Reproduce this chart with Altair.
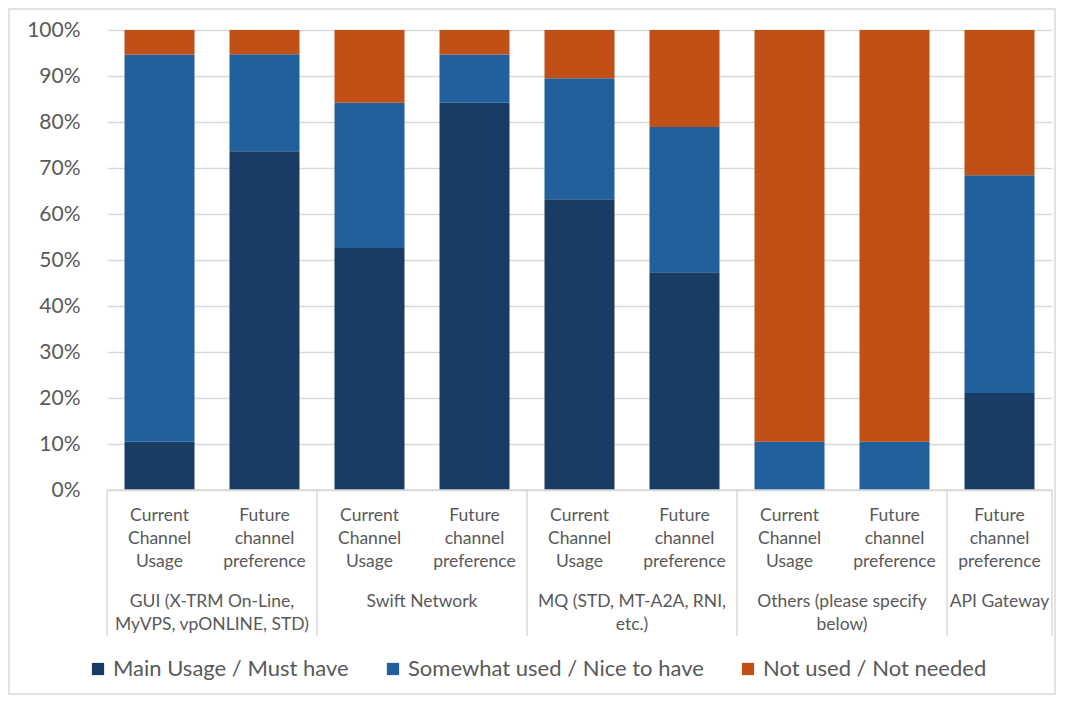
import altair as alt
import pandas as pd

# ---- data ----
groups = ["GUI (X-TRM On-Line,\nMyVPS, vpONLINE, STD)", "Swift Network",
          "MQ (STD, MT-A2A, RNI,\netc.)", "Others (please specify\nbelow)", "API Gateway"]
group_sizes = [2, 2, 2, 2, 1]
bar_labels = ["Current\nChannel\nUsage", "Future\nchannel\npreference",
              "Current\nChannel\nUsage", "Future\nchannel\npreference",
              "Current\nChannel\nUsage", "Future\nchannel\npreference",
              "Current\nChannel\nUsage", "Future\nchannel\npreference",
              "Future\nchannel\npreference"]
series = ["Main Usage / Must have", "Somewhat used / Nice to have", "Not used / Not needed"]
main = [10.5, 73.7, 52.6, 84.2, 63.2, 47.4, 0.0, 0.0, 21.1]
somewhat = [84.2, 21.1, 31.6, 10.5, 26.3, 31.6, 10.5, 10.5, 47.4]
notused = [5.3, 5.3, 15.8, 5.3, 10.5, 21.1, 89.5, 89.5, 31.6]
colors = ["#183c64", "#21609c", "#c05016"]

# ---- tables ----
rows = []
for i, lab in enumerate(bar_labels):
    for s_i, (s, vals) in enumerate(zip(series, [main, somewhat, notused])):
        rows.append({"pos": i + 0.5, "series": s, "order": s_i, "value": vals[i]})
bars_df = pd.DataFrame(rows)

sub_df = pd.DataFrame({"pos": [i + 0.5 for i in range(len(bar_labels))], "label": bar_labels})

bounds = [0]
for g in group_sizes:
    bounds.append(bounds[-1] + g)
grp_df = pd.DataFrame({"pos": [(bounds[k] + bounds[k + 1]) / 2 for k in range(len(groups))],
                       "label": groups})
sep_df = pd.DataFrame({"pos": bounds})
base_df = pd.DataFrame({"x0": [0], "x1": [bounds[-1]], "y": [0]})

W, H = 945, 460
FONT = "Lato"
GREY = "#595959"

xscale = alt.Scale(domain=[0, bounds[-1]], nice=False, zero=False, padding=0)

bars = alt.Chart(bars_df).mark_bar(size=70).encode(
    x=alt.X("pos:Q", scale=xscale, axis=None),
    y=alt.Y("value:Q", stack="normalize",
            scale=alt.Scale(domain=[0, 1], nice=False, padding=0),
            axis=alt.Axis(format=".0%", values=[i / 10 for i in range(11)], title=None,
                          domain=False, ticks=False, labelFontSize=21, labelColor=GREY,
                          labelFont=FONT, labelPadding=27, gridColor="#d9d9d9",
                          gridWidth=1.5)),
    color=alt.Color("series:N", scale=alt.Scale(domain=series, range=colors),
                    legend=alt.Legend(orient="none", legendX=-20, legendY=628,
                                      direction="horizontal", title=None,
                                      symbolType="square", symbolSize=150,
                                      symbolStrokeWidth=0, labelFontSize=22,
                                      labelFont=FONT, labelColor=GREY, labelLimit=0,
                                      columnPadding=33, symbolOffset=0)),
    order=alt.Order("order:Q"),
)

baseline = alt.Chart(base_df).mark_rule(color="#d9d9d9", strokeWidth=1.5).encode(
    x=alt.X("x0:Q", scale=xscale), x2="x1:Q", y=alt.value(H))

seps = alt.Chart(sep_df).mark_rule(color="#d9d9d9", strokeWidth=1.5).encode(
    x=alt.X("pos:Q", scale=xscale), y=alt.value(H), y2=alt.value(H + 146))

sub = alt.Chart(sub_df).mark_text(lineBreak="\n", baseline="middle", align="center",
                                  fontSize=17.5, font=FONT, color=GREY, lineHeight=23).encode(
    x=alt.X("pos:Q", scale=xscale), y=alt.value(H + 26), text="label:N")

grp = alt.Chart(grp_df).mark_text(lineBreak="\n", baseline="middle", align="center",
                                  fontSize=17.5, font=FONT, color=GREY, lineHeight=23).encode(
    x=alt.X("pos:Q", scale=xscale), y=alt.value(H + 112), text="label:N")

frame = alt.Chart(pd.DataFrame({"a": [0]})).mark_rect(fillOpacity=0, stroke="#d9d9d9",
                                                     strokeWidth=1.5).encode(
    x=alt.value(-98), x2=alt.value(W + 3), y=alt.value(-21), y2=alt.value(H + 204))

chart = alt.layer(frame, bars, baseline, seps, sub, grp).properties(
    width=W, height=H,
    autosize=alt.AutoSizeParams(type="none"),
    padding={"left": 99, "top": 22, "right": 4, "bottom": 205},
).configure_view(stroke=None)

chart.save("out.html", embed_options={"renderer": "svg", "actions": False})
